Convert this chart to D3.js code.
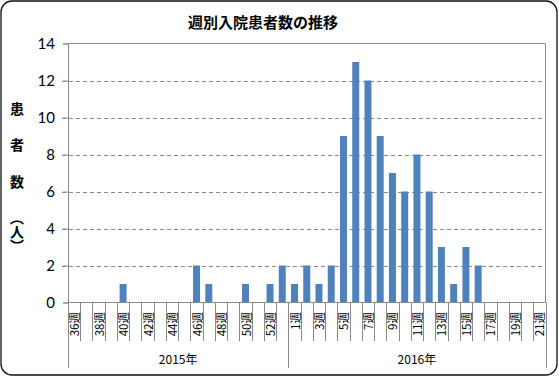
<!DOCTYPE html>
<html>
<head>
<meta charset="utf-8">
<script src="https://cdn.jsdelivr.net/npm/d3@7"></script>
<style>
  body { margin: 0; background: #fff; }
  svg { display: block; }
</style>
</head>
<body>
<div id="wrapper"></div>
<script>
// data
const title = "週別入院患者数の推移";
const yLabelChars = ["患", "者", "数"];
const yLabelUnit = "（人）";
const years = ["2015年", "2016年"];
const weeks2015 = [36, 37, 38, 39, 40, 41, 42, 43, 44, 45, 46, 47, 48, 49, 50, 51, 52, 53];
const values2015 = [0, 0, 0, 0, 1, 0, 0, 0, 0, 0, 2, 1, 0, 0, 1, 0, 1, 2];
const weeks2016 = [1, 2, 3, 4, 5, 6, 7, 8, 9, 10, 11, 12, 13, 14, 15, 16, 17, 18, 19, 20, 21];
const values2016 = [1, 2, 1, 2, 9, 13, 12, 9, 7, 6, 8, 6, 3, 1, 3, 2, 0, 0, 0, 0, 0];
const yTicks = [0, 2, 4, 6, 8, 10, 12, 14];

const data = []
weeks2015.forEach((w, i) => data.push({ year: 0, week: w, value: values2015[i] }));
weeks2016.forEach((w, i) => data.push({ year: 1, week: w, value: values2016[i] }));
data.forEach((d, i) => d.idx = i);

const width = 559
const height = 377
const plot = { left: 68, right: 545.5, top: 43.5, bottom: 302.5 }

const svg = d3.select("#wrapper")
    .append("svg")
    .attr("width", width)
    .attr("height", height);

// outer frame
svg.append("rect")
    .attr("x", 1).attr("y", 1)
    .attr("width", width - 3).attr("height", height - 3)
    .attr("rx", 11)
    .attr("fill", "#fff")
    .attr("stroke", "#111")
    .attr("stroke-width", 1.3);

const xScale = d3.scaleBand()
    .domain(data.map(d => d.idx))
    .range([plot.left, plot.right])
    .paddingInner(0.43)
    .paddingOuter(0.215);

const yScale = d3.scaleLinear()
    .domain([0, 14])
    .range([plot.bottom, plot.top]);

const step = xScale.step();
// band start of category i (without padding)
const catStart = i => plot.left + i * step;

// gridlines
svg.append("g")
    .selectAll("line")
    .data(yTicks.filter(t => t > 0 && t < 14))
    .join("line")
    .attr("x1", plot.left - 6)
    .attr("x2", plot.right)
    .attr("y1", d => Math.round(yScale(d)) + 0.5)
    .attr("y2", d => Math.round(yScale(d)) + 0.5)
    .attr("stroke", "#8a8a8a")
    .attr("stroke-dasharray", "4,3");

// plot frame top and right
svg.append("path")
    .attr("d", `M${plot.left},${plot.top}H${plot.right}V${plot.bottom}`)
    .attr("fill", "none")
    .attr("stroke", "#8a8a8a");

// y axis
const yAxis = svg.append("g")
    .attr("transform", `translate(${plot.left},0)`)
    .call(d3.axisLeft(yScale).tickValues(yTicks).tickSize(5).tickPadding(8));
yAxis.select(".domain").attr("stroke", "#8a8a8a");
yAxis.selectAll(".tick line").attr("stroke", "#8a8a8a");
yAxis.selectAll(".tick text")
    .attr("fill", "#000")
    .attr("font-family", "Lato, 'Noto Sans', sans-serif")
    .attr("font-size", "15px");

// bars
svg.append("g")
    .selectAll("rect")
    .data(data)
    .join("rect")
    .attr("x", d => xScale(d.idx))
    .attr("width", xScale.bandwidth())
    .attr("y", d => yScale(d.value))
    .attr("height", d => yScale(0) - yScale(d.value))
    .attr("fill", "#4f81bd");

// x axis line
svg.append("line")
    .attr("x1", plot.left).attr("x2", plot.right)
    .attr("y1", plot.bottom).attr("y2", plot.bottom)
    .attr("stroke", "#8a8a8a");

// category separators
svg.append("g")
    .selectAll("line")
    .data(d3.range(data.length + 1))
    .join("line")
    .attr("x1", i => Math.round(catStart(i)) + 0.5)
    .attr("x2", i => Math.round(catStart(i)) + 0.5)
    .attr("y1", plot.bottom)
    .attr("y2", i => (i === 0 || i === data.length || i === weeks2015.length) ? 368 : 341)
    .attr("stroke", "#8a8a8a");

// week labels, every other one
svg.append("g")
    .selectAll("text")
    .data(data.filter(d => d.idx % 2 === 0))
    .join("text")
    .attr("transform", d => `translate(${xScale(d.idx) + xScale.bandwidth() / 2},312) rotate(-90)`)
    .attr("text-anchor", "end")
    .attr("dominant-baseline", "central")
    .attr("font-family", "'Noto Sans CJK JP', sans-serif")
    .attr("font-size", "11.5px")
    .attr("fill", "#000")
    .text(d => d.week + "週");

// year labels
const yearBounds = [[0, weeks2015.length], [weeks2015.length, data.length]];
svg.append("g")
    .selectAll("text")
    .data(years)
    .join("text")
    .attr("x", (d, i) => (catStart(yearBounds[i][0]) + catStart(yearBounds[i][1])) / 2)
    .attr("y", 358)
    .attr("text-anchor", "middle")
    .attr("dominant-baseline", "central")
    .attr("font-family", "'Noto Sans CJK JP', sans-serif")
    .attr("font-size", "12px")
    .attr("fill", "#000")
    .text(d => d);

// title
svg.append("text")
    .attr("x", 263)
    .attr("y", 21)
    .attr("text-anchor", "middle")
    .attr("dominant-baseline", "central")
    .attr("font-family", "'Noto Sans CJK JP', sans-serif")
    .attr("font-size", "15px")
    .attr("font-weight", "bold")
    .attr("fill", "#000")
    .text(title);

// y label, stacked characters
const charY = [108, 144, 181];
svg.append("g")
    .selectAll("text")
    .data(yLabelChars)
    .join("text")
    .attr("x", 17)
    .attr("y", (d, i) => charY[i])
    .attr("text-anchor", "middle")
    .attr("dominant-baseline", "central")
    .attr("font-family", "'Noto Sans CJK JP', sans-serif")
    .attr("font-size", "14px")
    .attr("font-weight", "bold")
    .attr("fill", "#000")
    .text(d => d);

// unit in vertical writing so the brackets turn
svg.append("text")
    .attr("x", 17)
    .attr("y", 232)
    .attr("text-anchor", "middle")
    .style("writing-mode", "vertical-rl")
    .attr("font-family", "'Noto Sans CJK JP', sans-serif")
    .attr("font-size", "14px")
    .attr("font-weight", "bold")
    .attr("fill", "#000")
    .text(yLabelUnit);
</script>
</body>
</html>
